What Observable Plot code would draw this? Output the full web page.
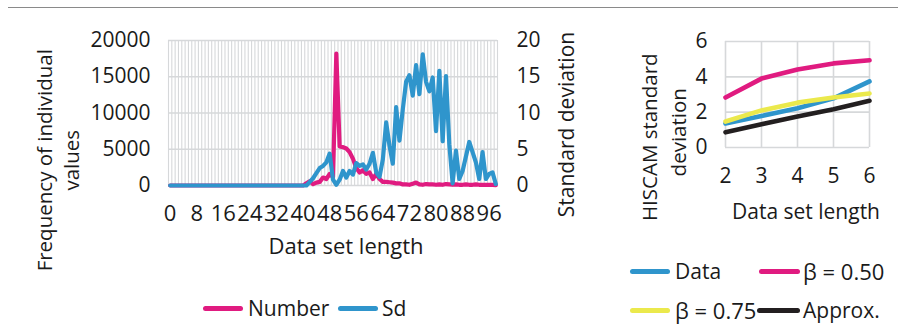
<!DOCTYPE html>
<html>
<head>
<meta charset="utf-8">
<script src="https://cdn.jsdelivr.net/npm/d3@7"></script>
<script src="https://cdn.jsdelivr.net/npm/@observablehq/plot@0.6"></script>
<style>
  html, body { margin: 0; padding: 0; background: #fff; }
  #wrap { position: relative; width: 905px; height: 324px; overflow: hidden; font-family: "Open Sans", sans-serif; color: #1a1a1a; }
  .abs { position: absolute; white-space: nowrap; }
  .sw { position: absolute; height: 5px; border-radius: 2.5px; }
  svg { overflow: visible; }
</style>
</head>
<body>
<div id="wrap"></div>
<script>
// ---------- data ----------
const lengths = d3.range(0, 99); // data set length categories 0..98
const numberValues = [
  0,0,0,0,0,0,0,0,0,0, 0,0,0,0,0,0,0,0,0,0,
  0,0,0,0,0,0,0,0,0,0, 0,0,0,0,0,0,0,0,0,0,
  0,300,600,200,400,500,1100,900,1600,1200,
  18200,5400,5300,5100,4600,3700,2400,1800,2100,1600,
  1800,900,1600,900,500,500,450,400,300,300,
  150,150,100,250,400,150,100,200,150,150,
  100,150,100,200,150,100,150,100,100,150,
  100,100,150,100,100,100,80,80,50
];
const sdValues = [
  0,0,0,0,0,0,0,0,0,0, 0,0,0,0,0,0,0,0,0,0,
  0,0,0,0,0,0,0,0,0,0, 0,0,0,0,0,0,0,0,0,0,
  0,0,0.5,1.0,1.7,2.4,2.7,3.2,4.4,0.8,
  0.1,0.8,2.0,1.1,2.0,1.5,3.1,2.7,2.9,2.2,
  3.0,4.5,1.8,1.2,3.6,8.7,5.5,3.0,10.8,6.2,
  10.5,14.3,15.2,12.4,16.6,12.6,18.1,14.3,13.0,14.9,
  7.5,15.8,6.1,15.1,5.7,0.3,4.8,0.9,2.0,4.0,
  6.0,4.6,3.2,0.9,4.6,0.9,1.6,1.8,0.2
];
const xTicksLeft = [0, 8, 16, 24, 32, 40, 48, 56, 64, 72, 80, 88, 96];
const freqTicks = [0, 5000, 10000, 15000, 20000];
const sdTicks = [0, 5, 10, 15, 20];

const hiscamLengths = [2, 3, 4, 5, 6];
const dataSeries = [1.36, 1.78, 2.22, 2.78, 3.74];
const beta050 = [2.83, 3.9, 4.42, 4.76, 4.94];
const beta075 = [1.47, 2.1, 2.54, 2.83, 3.06];
const approx = [0.86, 1.32, 1.75, 2.17, 2.64];
const hiscamYTicks = [0, 2, 4, 6];

const PINK = "#e01b80", BLUE = "#2f95cc", YELLOW = "#ebe94c", BLACK = "#231f20", GRID = "#d6d8da";

// ---------- build tables ----------
const leftTable = lengths.map((l, i) => ({len: l, number: numberValues[i], sd: sdValues[i]}));
const rightTable = [];
const seriesDefs = [["Data", dataSeries, BLUE], ["β = 0.50", beta050, PINK], ["β = 0.75", beta075, YELLOW], ["Approx.", approx, BLACK]];
seriesDefs.forEach(([name, vals]) => hiscamLengths.forEach((l, i) => rightTable.push({series: name, len: l, value: vals[i]})));

const wrap = document.getElementById("wrap");

// top rule
const rule = document.createElement("div");
rule.className = "abs";
Object.assign(rule.style, {left: "8px", top: "7px", width: "890px", height: "1px", background: "#8a8a8a"});
wrap.appendChild(rule);

// ---------- left chart ----------
const left = Plot.plot({
  width: 600, height: 260,
  marginLeft: 168, marginRight: 103, marginTop: 40, marginBottom: 75,
  style: {fontFamily: "Open Sans", fontSize: "21px", color: "#1a1a1a", background: "transparent"},
  x: {type: "linear", domain: [-0.5, 98.5]},
  y: {domain: [0, 20000]},
  marks: [
    Plot.gridX(d3.range(-0.5, 99, 1), {stroke: GRID, strokeOpacity: 1, strokeWidth: 1.1}),
    Plot.gridY(freqTicks, {stroke: GRID, strokeOpacity: 1, strokeWidth: 1.6}),
    Plot.axisY(freqTicks, {anchor: "left", tickSize: 0, tickPadding: 18, label: null, tickFormat: d => String(d)}),
    Plot.axisY(freqTicks, {anchor: "right", tickSize: 0, tickPadding: 19, label: null, tickFormat: (d, i) => String(sdTicks[i])}),
    Plot.axisX(xTicksLeft, {anchor: "bottom", tickSize: 0, tickPadding: 20, label: null, fontSize: "22px", tickFormat: d => String(d)}),
    Plot.line(leftTable, {x: "len", y: "number", stroke: PINK, strokeWidth: 4.2, strokeLinejoin: "round", strokeLinecap: "round"}),
    Plot.line(leftTable, {x: "len", y: d => d.sd * 1000, stroke: BLUE, strokeWidth: 4.2, strokeLinejoin: "round", strokeLinecap: "round"})
  ]
});
left.style.position = "absolute"; left.style.left = "0px"; left.style.top = "0px";
wrap.appendChild(left);

// ---------- right chart ----------
const right = Plot.plot({
  width: 305, height: 230,
  marginLeft: 125, marginRight: 36, marginTop: 41, marginBottom: 83,
  style: {fontFamily: "Open Sans", fontSize: "21px", color: "#1a1a1a", background: "transparent"},
  x: {domain: [2, 6]},
  y: {domain: [0, 6]},
  color: {domain: seriesDefs.map(d => d[0]), range: seriesDefs.map(d => d[2])},
  marks: [
    Plot.gridX(hiscamLengths, {stroke: GRID, strokeOpacity: 1, strokeWidth: 1.6}),
    Plot.gridY(hiscamYTicks, {stroke: GRID, strokeOpacity: 1, strokeWidth: 1.6}),
    Plot.axisY(hiscamYTicks, {anchor: "left", tickSize: 0, tickPadding: 18, label: null}),
    Plot.axisX(hiscamLengths, {anchor: "bottom", tickSize: 0, tickPadding: 21, label: null}),
    Plot.line(rightTable, {x: "len", y: "value", z: "series", stroke: "series", strokeWidth: 4.6, strokeLinejoin: "round", strokeLinecap: "round"})
  ]
});
right.style.position = "absolute"; right.style.left = "600px"; right.style.top = "0px";
wrap.appendChild(right);

// ---------- text helpers ----------
function addText(txt, x, yc, size, opts = {}) {
  const d = document.createElement("div");
  d.className = "abs";
  d.textContent = txt;
  d.style.fontSize = size + "px";
  d.style.lineHeight = "1";
  wrap.appendChild(d);
  const w = d.offsetWidth, h = d.offsetHeight;
  let lx = x;
  if (opts.align === "center") lx = x - w / 2;
  d.style.left = lx + "px";
  d.style.top = (yc - h / 2) + "px";
  if (opts.rotate) {
    d.style.left = (x - w / 2) + "px";
    d.style.transform = "rotate(-90deg)";
  }
  return d;
}
function addSwatch(x1, x2, yc, color) {
  const s = document.createElement("div");
  s.className = "sw";
  Object.assign(s.style, {left: x1 + "px", width: (x2 - x1) + "px", top: (yc - 2.5) + "px", background: color});
  wrap.appendChild(s);
}

// axis titles
addText("Frequency of individual", 44, 160, 20.5, {rotate: true});
addText("values", 71, 160, 20.5, {rotate: true});
addText("Standard deviation", 566, 124, 21, {rotate: true});
addText("Data set length", 346, 245, 22, {align: "center"});

addText("HISCAM standard", 649, 137, 20.5, {rotate: true});
addText("deviation", 678, 132, 20.5, {rotate: true});
addText("Data set length", 806, 211, 21, {align: "center"});

// legends
addSwatch(203, 243, 308, PINK); addText("Number", 248, 308, 21);
addSwatch(338, 378, 308, BLUE); addText("Sd", 382, 308, 21);

addSwatch(630, 670, 271, BLUE); addText("Data", 675, 271, 21);
addSwatch(759, 800, 271, PINK); addText("β = 0.50", 803, 271, 22);
addSwatch(630, 670, 310, YELLOW); addText("β = 0.75", 675, 310, 22);
addSwatch(757, 800, 310, BLACK); addText("Approx.", 803, 310, 21);
</script>
</body>
</html>
